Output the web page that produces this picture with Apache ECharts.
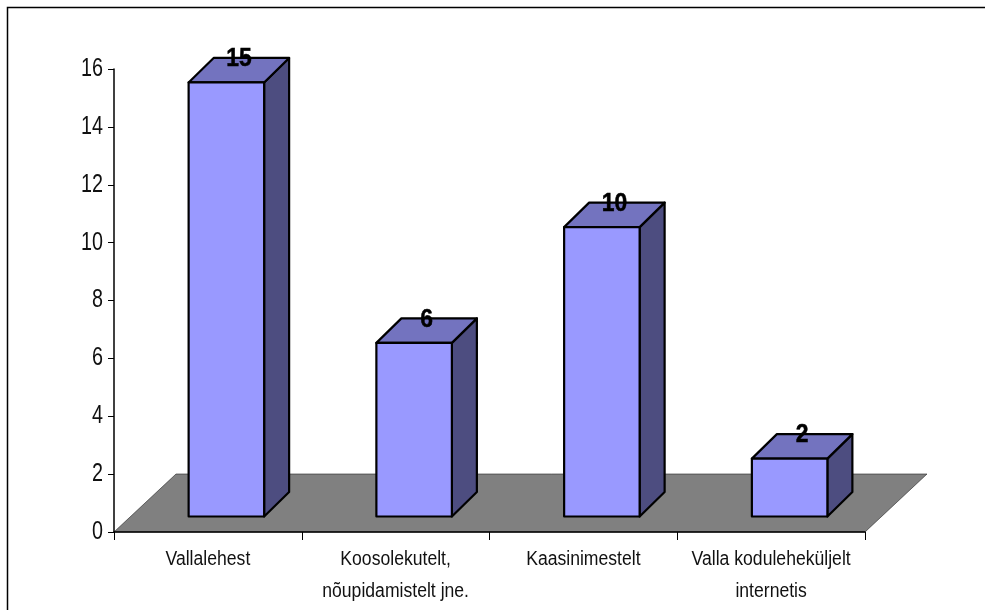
<!DOCTYPE html>
<html>
<head>
<meta charset="utf-8">
<style>html,body{margin:0;padding:0;background:#fff}#c{width:985px;height:610px}</style>
<script src="https://cdn.jsdelivr.net/npm/echarts@6/dist/echarts.min.js"></script>
</head>
<body>
<div id="c"></div>
<script>
const categories = ["Vallalehest", "Koosolekutelt,\nnõupidamistelt jne.", "Kaasinimestelt", "Valla koduleheküljelt\ninternetis"];
const values = [15, 6, 10, 2];
const yTicks = {min: 0, max: 16, interval: 2};

const FONT = '"Liberation Sans", Arial, sans-serif';
const floorDepth = [62, 58];
const barDepth = [25, 24.5];
const planeOffset = [18.5, 15.5];
const barWidth = 75.5;

const chart = echarts.init(document.getElementById('c'), null, {renderer: 'canvas'});

function renderFloor(params, api) {
  const g = params.coordSys;
  const l = g.x, r = g.x + g.width, b = g.y + g.height;
  return {
    type: 'polygon', silent: true,
    shape: {points: [[l, b], [r, b], [r + floorDepth[0], b - floorDepth[1]], [l + floorDepth[0], b - floorDepth[1]]]},
    style: {fill: '#808080', stroke: '#222', lineWidth: 0.6}
  };
}

function renderBar(params, api) {
  const idx = api.value(0), val = api.value(1);
  const top = api.coord([idx, val]), base = api.coord([idx, 0]);
  const cx = top[0] + planeOffset[0];
  const x0 = cx - barWidth / 2, x1 = cx + barWidth / 2;
  const yT = top[1] - planeOffset[1], yB = base[1] - planeOffset[1];
  const dx = barDepth[0], dy = barDepth[1];
  const line = {stroke: '#000', lineWidth: 2.2, lineJoin: 'round'};
  return {
    type: 'group',
    children: [
      {type: 'polygon', shape: {points: [[x1, yT], [x1 + dx, yT - dy], [x1 + dx, yB - dy], [x1, yB]]}, style: {fill: '#4D4D80', ...line}},
      {type: 'polygon', shape: {points: [[x0, yT], [x1, yT], [x1 + dx, yT - dy], [x0 + dx, yT - dy]]}, style: {fill: '#7373BF', ...line}},
      {type: 'rect', shape: {x: x0, y: yT, width: barWidth, height: yB - yT}, style: {fill: '#9999FF', ...line}},
      {type: 'text', z2: 10, x: cx + dx / 2, y: yT - dy + 1, scaleX: 0.88, style: {
        text: String(val), x: 0, y: 0, align: 'center', verticalAlign: 'middle',
        font: 'bold 26px ' + FONT, fill: '#000', stroke: '#000', lineWidth: 0.5
      }}
    ]
  };
}

chart.setOption({
  animation: false,
  backgroundColor: '#fff',
  grid: {left: 114, right: 120, top: 69, bottom: 78, containLabel: false},
  graphic: [{
    type: 'rect', z: -1, silent: true,
    shape: {x: 7.5, y: 7.5, width: 1000, height: 1000},
    style: {fill: 'none', stroke: '#000', lineWidth: 1.5}
  }],
  xAxis: {
    type: 'category', data: categories, boundaryGap: true, z: 1.5,
    axisLine: {show: true, onZero: false, lineStyle: {color: '#000', width: 1.5}},
    axisTick: {show: true, alignWithLabel: false, length: 8, lineStyle: {color: '#000', width: 1}},
    axisLabel: {color: '#111', fontFamily: FONT, fontSize: 20, lineHeight: 32, margin: 11, interval: 0},
    splitLine: {show: false}
  },
  yAxis: {
    type: 'value', min: yTicks.min, max: yTicks.max, interval: yTicks.interval, z: 1.5,
    axisLine: {show: true, lineStyle: {color: '#000', width: 1.5}},
    axisTick: {show: true, length: 6, lineStyle: {color: '#000', width: 1}},
    axisLabel: {color: '#111', fontFamily: FONT, fontSize: 25, margin: 11},
    splitLine: {show: false}
  },
  series: [
    {type: 'custom', z: 1, renderItem: renderFloor, data: [[0, 0]], encode: {x: 0, y: 1}, silent: true},
    {type: 'custom', z: 2, renderItem: renderBar, data: values.map((v, i) => [i, v]), encode: {x: 0, y: 1}, silent: true}
  ]
});

// The reference's type is condensed: narrow the axis labels the library drew, each about its own anchor.
const zr = chart.getZr();
const seen = new Set();
zr.storage.getDisplayList(true).forEach(function (el) {
  const t = el.type === 'tspan' ? el.parent : el;
  if (!t || t.type !== 'text' || seen.has(t)) return;
  seen.add(t);
  const s = t.style.text == null ? '' : String(t.style.text);
  if (categories.indexOf(s) >= 0) { t.scaleX = 0.88; t.dirty(); }
  else if (/^\d+$/.test(s) && t.style.fontSize == 25) { t.scaleX = 0.79; t.dirty(); }
});
zr.refreshImmediately();
</script>
</body>
</html>
